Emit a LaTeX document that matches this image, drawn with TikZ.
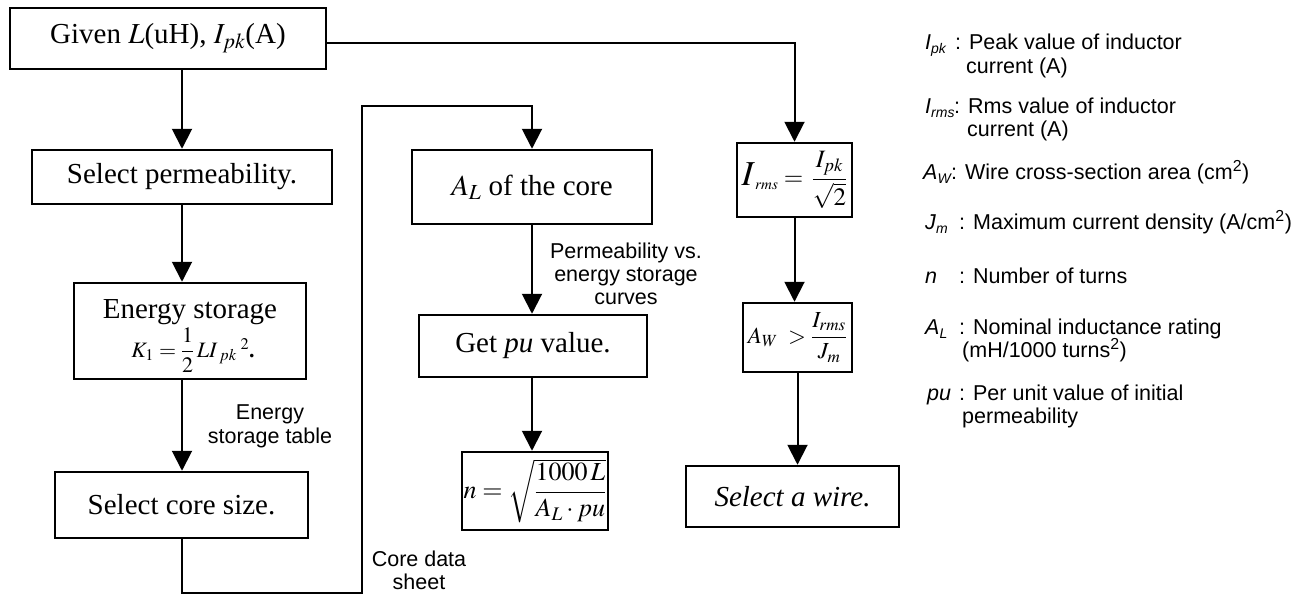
\documentclass[tikz,border=0pt]{standalone}
\usepackage{mathptmx}
\usepackage{amsmath}
\usepackage{fontspec}
\setmainfont{Liberation Serif}
\setsansfont{Liberation Sans}
\usetikzlibrary{arrows.meta,calc}
\newcommand{\mainsz}{\fontsize{29}{34}\selectfont}
\newcommand{\lblsz}{\fontsize{21.5}{23}\selectfont\sffamily}
\newcommand{\legsub}[1]{\raisebox{-4pt}{\fontsize{14}{14}\selectfont\itshape #1}}
\tikzset{
  box/.style={draw, line width=2.5pt, inner sep=0pt, font=\mainsz},
  conn/.style={line width=2pt, -{Triangle[length=20pt,width=20pt]}},
  lbl/.style={font=\lblsz, inner sep=0pt, anchor=base},
  leg/.style={font=\lblsz, inner sep=0pt, anchor=base west},
}
\begin{document}
\begin{tikzpicture}[x=1pt,y=-1pt]
\useasboundingbox (0,0) rectangle (1301,595);
\fill[white] (0,0) rectangle (1301,595);

% boxes
\node[box, minimum width=316pt, minimum height=61pt] (given) at (168,38.5) {Given $L$(uH), $I_{pk}$(A)};
\node[box, minimum width=300pt, minimum height=54pt] (perm) at (182,177) {Select permeability.};
\node[box, minimum width=232pt, minimum height=96pt] (energy) at (190,331) {};
\node[inner sep=0pt, anchor=base, font=\mainsz] (entitle) at (190,318) {Energy storage};
\node[inner sep=0pt, anchor=base, font=\fontsize{22}{22}\selectfont] (enform) at (193,357) {$K_{1}=\dfrac{1}{2}\,LI_{\;pk}{}^{\;2}$\textbf{.}};
\node[box, minimum width=253pt, minimum height=66pt] (core) at (181.5,505) {Select core size.};
\node[box, minimum width=240pt, minimum height=74pt] (al) at (532,187) {$A_L$ of the core};
\node[box, minimum width=228pt, minimum height=62pt] (getpu) at (533,346) {Get \textit{pu} value.\hspace{38pt}};
\node[box, minimum width=146pt, minimum height=78pt] (nform) at (535,491) {\fontsize{26}{26}\selectfont $n=\sqrt{\dfrac{1000\,L}{A_L\cdot pu}}$};
\node[box, minimum width=115pt, minimum height=74pt] (irms) at (794.5,180) {\fontsize{25}{25}\selectfont $\mbox{\fontsize{35}{35}\selectfont$I$}_{\scriptscriptstyle rms}=\,\dfrac{I_{pk}}{\sqrt{2}}$};
\node[box, minimum width=109pt, minimum height=69pt] (aw) at (797.5,337.5) {\fontsize{23}{23}\selectfont $A_{W}\;>\dfrac{I_{rms}}{J_{m}}$};
\node[box, minimum width=213pt, minimum height=61pt] (wire) at (792.5,496.5) {\textit{Select a wire.}};

% connectors
\coordinate (c1) at (362,593);
\coordinate (c2) at (362,106);
\draw[conn] (given.south -| perm.north) -- (perm.north);
\draw[conn] (perm.south) -- (perm.south |- energy.north);
\draw[conn] (perm.south |- energy.south) -- (perm.south |- core.north);
\draw[conn] (core.south) |- (c1) -- (c2) -| (al.north);
\draw[conn] (al.south) -- (al.south |- getpu.north);
\draw[conn] (al.south |- getpu.south) -- (al.south |- nform.north);
\draw[conn] ([yshift=-4.5pt]given.east) -| (irms.north);
\draw[conn] (irms.south) -- (irms.south |- aw.north);
\draw[conn] (aw.south) -- (aw.south |- wire.north);

% connector labels
\node[lbl] (lbE1) at (270,419) {Energy};
\node[lbl] (lbE2) at (270,443) {storage table};
\node[lbl] (lbP1) at (626,258) {Permeability vs.};
\node[lbl] (lbP2) at (626,281) {energy storage};
\node[lbl] (lbP3) at (626,304) {curves};
\node[lbl] (lbC1) at (419,566) {Core data};
\node[lbl] (lbC2) at (419,589) {sheet};

% legend
\node[leg] (s1) at (925,49.5) {\textit{I}\legsub{pk}};
\node[leg] (d1) at (955,49.5) {: Peak value of inductor};
\node[leg] (d1b) at (966,73) {current (A)};
\node[leg] (s2) at (925,113) {\textit{I}\legsub{rms}};
\node[leg] (d2) at (954,113) {: Rms value of inductor};
\node[leg] (d2b) at (967,136) {current (A)};
\node[leg] (s3) at (923,179) {\textit{A}\legsub{W}};
\node[leg] (d3) at (951,179) {: Wire cross-section area (cm\textsuperscript{2})};
\node[leg] (s4) at (925,229) {\textit{J}\legsub{m}};
\node[leg] (d4) at (959,229) {: Maximum current density (A/cm\textsuperscript{2})};
\node[leg] (s5) at (925,283.5) {\textit{n}};
\node[leg] (d5) at (959,283.5) {: Number of turns};
\node[leg] (s6) at (925,334) {\textit{A}\legsub{L}};
\node[leg] (d6) at (959,334) {: Nominal inductance rating};
\node[leg] (d6b) at (962,357.5) {(mH/1000 turns\textsuperscript{2})};
\node[leg] (s7) at (927,400.5) {\textit{pu}};
\node[leg] (d7) at (959,400.5) {: Per unit value of initial};
\node[leg] (d7b) at (962,423.5) {permeability};
\end{tikzpicture}
\end{document}
